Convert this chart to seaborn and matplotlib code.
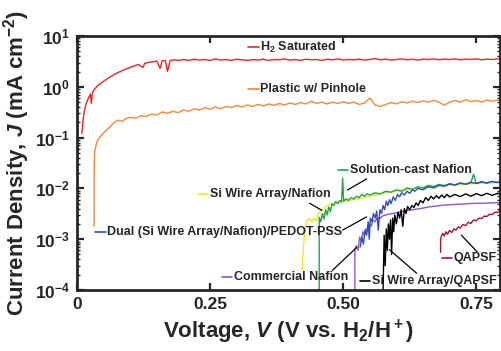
import numpy as np
import pandas as pd
import matplotlib
matplotlib.use('Agg')
import matplotlib.pyplot as plt
from matplotlib.ticker import LogLocator, NullLocator, FixedLocator
import seaborn as sns

# ---- dados (V em volts, J em mA cm-2) ----
v_h2 = [0.009, 0.011, 0.013, 0.016, 0.019, 0.022, 0.025, 0.027, 0.029, 0.032, 0.036, 0.041, 0.047, 0.054,
        0.062, 0.070, 0.079, 0.088, 0.097, 0.106, 0.115, 0.124, 0.127, 0.133, 0.141, 0.150, 0.156, 0.160,
        0.166, 0.170, 0.175, 0.183, 0.192, 0.20, 0.21, 0.22, 0.23, 0.24, 0.25, 0.26, 0.27, 0.28, 0.29, 0.30,
        0.31, 0.32, 0.33, 0.34, 0.35, 0.36, 0.37, 0.38, 0.39, 0.40, 0.41, 0.42, 0.43, 0.44, 0.45, 0.46,
        0.47, 0.48, 0.49, 0.50, 0.51, 0.52, 0.53, 0.54, 0.55, 0.56, 0.57, 0.58, 0.59, 0.60, 0.61, 0.62,
        0.63, 0.64, 0.65, 0.66, 0.67, 0.68, 0.69, 0.70, 0.71, 0.72, 0.73, 0.74, 0.75, 0.76, 0.77, 0.78,
        0.79, 0.795]
j_h2 = [0.12, 0.2, 0.3, 0.42, 0.52, 0.62, 0.72, 0.47, 0.78, 0.88, 0.98, 1.1, 1.22, 1.38,
        1.55, 1.75, 1.95, 2.15, 2.35, 2.55, 2.75, 2.4, 2.9, 3.0, 3.1, 3.2, 2.3, 3.25,
        3.3, 2.0, 3.3, 3.4, 3.3, 3.45, 3.3, 3.5, 3.35, 3.45, 3.3, 3.55, 3.35, 3.45, 3.3, 3.5,
        3.4, 3.3, 3.45, 3.35, 3.5, 3.3, 3.45, 3.4, 3.55, 3.35, 3.45, 3.3, 3.5, 3.4, 3.45, 3.3,
        3.5, 3.4, 3.55, 3.35, 3.45, 3.4, 3.5, 3.35, 3.45, 3.6, 3.4, 3.5, 3.35, 3.45, 3.55, 3.4,
        3.5, 3.35, 3.5, 3.45, 3.55, 3.4, 3.5, 3.45, 3.55, 3.4, 3.5, 3.45, 3.55, 3.4, 3.5, 3.45,
        3.55, 3.5]

v_pinhole = [0.032, 0.0322, 0.033, 0.035, 0.038, 0.042, 0.047, 0.052, 0.058, 0.064, 0.070, 0.077, 0.085,
             0.093, 0.10, 0.11, 0.12, 0.13, 0.14, 0.15, 0.16, 0.17, 0.18, 0.19, 0.20, 0.21, 0.22, 0.23,
             0.24, 0.25, 0.26, 0.27, 0.28, 0.29, 0.30, 0.31, 0.32, 0.33, 0.34, 0.35, 0.36, 0.37, 0.38,
             0.39, 0.40, 0.41, 0.42, 0.43, 0.44, 0.45, 0.46, 0.47, 0.48, 0.49, 0.50, 0.51, 0.52, 0.53,
             0.54, 0.55, 0.56, 0.57, 0.58, 0.59, 0.60, 0.61, 0.62, 0.63, 0.64, 0.65, 0.66, 0.67, 0.68,
             0.69, 0.70, 0.71, 0.72, 0.73, 0.74, 0.75, 0.76, 0.77, 0.78, 0.79, 0.795]
j_pinhole = [0.0018, 0.02, 0.05, 0.066, 0.085, 0.1, 0.115, 0.13, 0.15, 0.17, 0.2, 0.22, 0.21,
             0.24, 0.25, 0.24, 0.27, 0.26, 0.29, 0.28, 0.32, 0.3, 0.33, 0.31, 0.35, 0.33, 0.37, 0.35,
             0.39, 0.36, 0.4, 0.37, 0.41, 0.39, 0.43, 0.4, 0.44, 0.41, 0.45, 0.42, 0.46, 0.43, 0.47,
             0.44, 0.48, 0.45, 0.49, 0.46, 0.52, 0.47, 0.5, 0.46, 0.5, 0.47, 0.51, 0.47, 0.5, 0.45,
             0.48, 0.6, 0.44, 0.41, 0.45, 0.49, 0.46, 0.51, 0.48, 0.52, 0.49, 0.53, 0.5, 0.54, 0.5,
             0.43, 0.5, 0.54, 0.5, 0.56, 0.51, 0.54, 0.5, 0.55, 0.52, 0.55, 0.53]

v_si_nafion = [0.423, 0.425, 0.427, 0.430, 0.433, 0.437, 0.441, 0.445, 0.449, 0.453, 0.458, 0.463, 0.468,
               0.475, 0.485, 0.50, 0.52, 0.55, 0.58, 0.60, 0.63, 0.66, 0.69, 0.72, 0.75, 0.795]
j_si_nafion = [2.5e-4, 6e-4, 1.1e-3, 2.0e-3, 2.4e-3, 2.5e-3, 2.2e-3, 2.6e-3, 2.3e-3, 3.2e-3, 3.6e-3, 4.0e-3, 4.4e-3,
               4.8e-3, 5.2e-3, 5.6e-3, 6.0e-3, 7.0e-3, 8.3e-3, 8.8e-3, 9.8e-3, 0.011, 0.0115, 0.012, 0.0125, 0.013]

v_sol_cast = [0.455, 0.455, 0.458, 0.461, 0.464, 0.467, 0.470, 0.473, 0.476, 0.479, 0.482, 0.486, 0.490,
              0.494, 0.497, 0.499, 0.501, 0.505, 0.51, 0.515, 0.52, 0.525, 0.53, 0.535, 0.54, 0.545, 0.55,
              0.56, 0.57, 0.58, 0.59, 0.60, 0.61, 0.62, 0.63, 0.64, 0.65, 0.66, 0.67, 0.68, 0.69, 0.70,
              0.71, 0.72, 0.73, 0.74, 0.745, 0.75, 0.76, 0.77, 0.78, 0.79, 0.795]
j_sol_cast = [5e-5, 2.7e-3, 2.2e-3, 3.2e-3, 2.5e-3, 3.8e-3, 3.0e-3, 4.3e-3, 3.5e-3, 5.0e-3, 4.6e-3, 5.5e-3, 5.0e-3,
              5.8e-3, 5.4e-3, 0.016, 5.6e-3, 6.2e-3, 5.8e-3, 6.6e-3, 6.2e-3, 7.0e-3, 6.6e-3, 7.6e-3, 7.0e-3, 7.8e-3, 7.4e-3,
              8.2e-3, 7.8e-3, 8.8e-3, 8.4e-3, 9.4e-3, 8.8e-3, 0.0102, 9.6e-3, 0.0108, 0.0101, 0.0115, 0.0108, 0.012, 0.0113, 0.0124,
              0.0117, 0.0127, 0.012, 0.013, 0.019, 0.0125, 0.0134, 0.0127, 0.0136, 0.013, 0.0137]

v_commercial = [0.522, 0.522, 0.525, 0.528, 0.531, 0.534, 0.537, 0.540, 0.543, 0.546, 0.550, 0.553, 0.556,
                0.560, 0.564, 0.568, 0.575, 0.585, 0.60, 0.615, 0.63, 0.645, 0.66, 0.675, 0.69, 0.705,
                0.72, 0.735, 0.75, 0.765, 0.78, 0.795]
j_commercial = [5e-5, 6.5e-4, 7.5e-4, 6e-4, 1.1e-3, 9e-4, 1.4e-3, 1.2e-3, 1.6e-3, 1.4e-3, 2.0e-3, 1.8e-3, 2.4e-3,
                2.2e-3, 2.7e-3, 2.5e-3, 2.9e-3, 3.1e-3, 3.3e-3, 3.6e-3, 3.8e-3, 4.0e-3, 4.3e-3, 4.5e-3, 4.7e-3, 4.8e-3,
                4.9e-3, 5.0e-3, 5.1e-3, 5.1e-3, 5.2e-3, 5.2e-3]

v_dual = [0.532, 0.535, 0.538, 0.541, 0.544, 0.547, 0.549, 0.551, 0.554, 0.557, 0.560, 0.563, 0.566, 0.569,
          0.572, 0.575, 0.578, 0.581, 0.584, 0.587, 0.590, 0.594, 0.598, 0.602, 0.606, 0.61, 0.615, 0.62,
          0.625, 0.63, 0.635, 0.64, 0.65, 0.66, 0.67, 0.68, 0.69, 0.70, 0.71, 0.72, 0.73, 0.74, 0.75, 0.76,
          0.77, 0.78, 0.79, 0.795]
j_dual = [7e-4, 1.1e-3, 8e-4, 1.5e-3, 1.2e-3, 2.2e-3, 1.0e-3, 2.6e-3, 2.2e-3, 3.2e-3, 2.6e-3, 3.6e-3, 1.5e-3, 3.8e-3,
          3.2e-3, 4.6e-3, 3.8e-3, 5.6e-3, 4.6e-3, 6.0e-3, 5.0e-3, 6.8e-3, 5.8e-3, 7.6e-3, 6.8e-3, 8.2e-3, 7.4e-3, 8.8e-3,
          8.0e-3, 9.4e-3, 8.8e-3, 0.01, 9.4e-3, 0.0108, 0.0102, 0.0115, 0.011, 0.0122, 0.0116, 0.0128, 0.0121, 0.0132, 0.0125, 0.0135,
          0.0128, 0.0138, 0.0131, 0.0136]

v_si_qapsf = [0.575, 0.577, 0.579, 0.581, 0.583, 0.585, 0.587, 0.589, 0.591, 0.593, 0.595, 0.597, 0.600, 0.603,
              0.606, 0.609, 0.612, 0.615, 0.618, 0.621, 0.625, 0.629, 0.633, 0.637, 0.641, 0.645, 0.65, 0.655,
              0.66, 0.665, 0.67, 0.675, 0.68, 0.685, 0.69, 0.695, 0.70, 0.71, 0.72, 0.73, 0.74, 0.75, 0.76,
              0.77, 0.78, 0.79, 0.795]
j_si_qapsf = [1e-4, 1.2e-3, 3e-4, 1.6e-3, 6e-4, 2.0e-3, 1.0e-3, 2.4e-3, 5e-4, 2.6e-3, 1.4e-3, 3.0e-3, 2.0e-3, 3.4e-3,
              2.6e-3, 3.8e-3, 1.8e-3, 4.0e-3, 3.2e-3, 4.4e-3, 3.8e-3, 4.6e-3, 4.2e-3, 5.2e-3, 4.6e-3, 5.8e-3, 5.2e-3, 6.6e-3,
              5.8e-3, 7.0e-3, 6.2e-3, 7.2e-3, 6.4e-3, 7.4e-3, 6.6e-3, 7.6e-3, 6.8e-3, 7.6e-3, 6.9e-3, 7.8e-3, 7.0e-3, 7.9e-3, 7.2e-3,
              8.0e-3, 7.3e-3, 8.0e-3, 7.6e-3]

v_qapsf = [0.683, 0.683, 0.685, 0.687, 0.690, 0.693, 0.696, 0.700, 0.704, 0.708, 0.712, 0.716, 0.720, 0.725,
           0.730, 0.735, 0.740, 0.745, 0.750, 0.755, 0.760, 0.765, 0.770, 0.775, 0.780, 0.785, 0.790, 0.795]
j_qapsf = [5.5e-4, 1.0e-3, 1.2e-3, 1.3e-3, 1.15e-3, 1.4e-3, 1.25e-3, 1.5e-3, 1.35e-3, 1.6e-3, 1.5e-3, 1.75e-3, 1.65e-3, 1.95e-3,
           1.85e-3, 2.15e-3, 2.05e-3, 2.4e-3, 2.3e-3, 2.6e-3, 2.55e-3, 2.85e-3, 2.8e-3, 3.1e-3, 3.05e-3, 3.4e-3, 3.35e-3, 3.7e-3]

x_ticks = [0, 0.25, 0.50, 0.75]
x_tick_labels = ['0', '0.25', '0.50', '0.75']
y_ticks = [1e-4, 1e-3, 1e-2, 1e-1, 1e0, 1e1]
y_tick_labels = [r'$\mathbf{10^{-4}}$', r'$\mathbf{10^{-3}}$', r'$\mathbf{10^{-2}}$',
                 r'$\mathbf{10^{-1}}$', r'$\mathbf{10^{0}}$', r'$\mathbf{10^{1}}$']

# ---- estilo ----
sns.set_style('ticks')
plt.rcParams['font.family'] = ['Liberation Sans', 'DejaVu Sans']
plt.rcParams['font.weight'] = 'bold'
plt.rcParams['mathtext.fontset'] = 'custom'
plt.rcParams['mathtext.rm'] = 'Liberation Sans:bold'
plt.rcParams['mathtext.it'] = 'Liberation Sans:italic:bold'
plt.rcParams['mathtext.bf'] = 'Liberation Sans:bold'

fig = plt.figure(figsize=(5.02, 3.51), dpi=100)
ax = fig.add_axes([0.1534, 0.1738, 0.843, 0.7236])
ax.set_yscale('log')

curvas = [
    (v_pinhole, j_pinhole, '#f28a3a'),
    (v_h2, j_h2, '#e8262c'),
    (v_si_nafion, j_si_nafion, '#f0ea1c'),
    (v_sol_cast, j_sol_cast, '#1ea64a'),
    (v_commercial, j_commercial, '#8a5ac8'),
    (v_dual, j_dual, '#2f4fb8'),
    (v_si_qapsf, j_si_qapsf, '#000000'),
    (v_qapsf, j_qapsf, '#a3172a'),
]
for v, j, cor in curvas:
    sns.lineplot(x=v, y=j, sort=False, estimator=None, color=cor, lw=1.0, ax=ax)

# ---- rotulos das curvas ----
rotulos = [
    ('H$_2$ Saturated', '#e8262c', 0.321, 6.0, None),
    ('Plastic w/ Pinhole', '#f28a3a', 0.321, 0.905, None),
    ('Solution-cast Nafion', '#1ea64a', 0.490, 0.0229, ((0.544, 0.0153), (0.508, 0.0093))),
    ('Si Wire Array/Nafion', '#f0ea1c', 0.227, 0.0078, ((0.437, 0.0051), (0.460, 0.0037))),
    ('Dual (Si Wire Array/Nafion)/PEDOT-PSS', '#2f4fb8', 0.034, 0.00138, ((0.499, 0.00151), (0.544, 0.00275))),
    ('Commercial Nafion', '#8a5ac8', 0.272, 0.000182, ((0.480, 0.000245), (0.525, 0.00068))),
    ('Si Wire Array/QAPSF', '#000000', 0.531, 0.000151, ((0.638, 0.000214), (0.587, 0.00062))),
    ('QAPSF', '#a3172a', 0.685, 0.000427, ((0.752, 0.00056), (0.722, 0.0012))),
]
for texto, cor, x0, y0, linha in rotulos:
    ax.plot([x0, x0 + 0.02], [y0, y0], color=cor, lw=1.2)
    ax.text(x0 + 0.023, y0, texto, fontsize=9, fontweight='bold', va='center', ha='left')
    if linha is not None:
        ax.plot([linha[0][0], linha[1][0]], [linha[0][1], linha[1][1]], color='black', lw=0.9)

# ---- eixos ----
ax.set_xlim(0, 0.795)
ax.set_ylim(1e-4, 10)
ax.xaxis.set_major_locator(FixedLocator(x_ticks))
ax.set_xticklabels(x_tick_labels)
ax.xaxis.set_minor_locator(NullLocator())
ax.yaxis.set_major_locator(FixedLocator(y_ticks))
ax.set_yticklabels(y_tick_labels)
ax.yaxis.set_minor_locator(LogLocator(base=10, subs=np.arange(2, 10)))

for sp in ax.spines.values():
    sp.set_linewidth(2.0)
ax.tick_params(which='both', direction='in', top=True, right=True)
ax.tick_params(which='major', length=5, width=1.6, labelsize=12.5, pad=5)
ax.tick_params(which='minor', length=2.5, width=1.0)
for lab in ax.get_xticklabels():
    lab.set_fontweight('bold')

ax.set_xlabel('Voltage, $V$ (V vs. H$_2$/H$^+$)', fontsize=16, fontweight='bold', labelpad=4)
ax.set_ylabel('Current Density, $J$ (mA cm$^{-2}$)', fontsize=16, fontweight='bold', labelpad=2)

fig.savefig('out.png', dpi=100)
